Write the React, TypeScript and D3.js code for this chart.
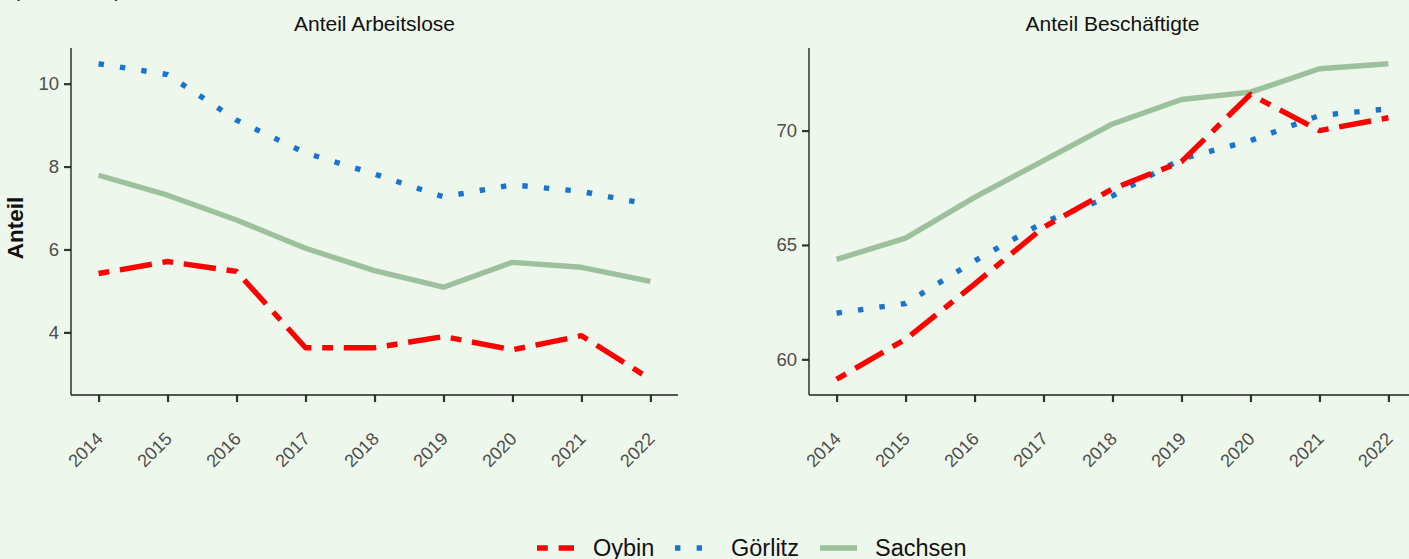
import React, { useRef, useEffect } from 'react';
import * as d3 from 'd3';

// Years on the x axis
const years = [2014, 2015, 2016, 2017, 2018, 2019, 2020, 2021, 2022];

// Anteil Arbeitslose (%)
const arbeitsloseOybin = [5.42, 5.71, 5.47, 3.63, 3.63, 3.9, 3.58, 3.92, 2.87];
const arbeitsloseGoerlitz = [10.48, 10.22, 9.12, 8.33, 7.82, 7.27, 7.56, 7.4, 7.08];
const arbeitsloseSachsen = [7.79, 7.31, 6.71, 6.03, 5.49, 5.09, 5.69, 5.57, 5.23];

// Anteil Beschäftigte (%)
const beschaeftigteOybin = [59.13, 60.88, 63.29, 65.77, 67.45, 68.64, 71.58, 70.0, 70.56];
const beschaeftigteGoerlitz = [62.02, 62.44, 64.3, 65.99, 67.15, 68.76, 69.56, 70.66, 70.95];
const beschaeftigteSachsen = [64.37, 65.3, 67.08, 68.69, 70.29, 71.36, 71.68, 72.7, 72.92];

const regions = ['Oybin', 'Görlitz', 'Sachsen'];
const leftTicks = [4, 6, 8, 10];
const rightTicks = [60, 65, 70];

const FONT = '"Liberation Sans", Arial, Helvetica, sans-serif';
const LW = 5.4;
const styles: Record<string, { color: string; dash: string | null }> = {
    Oybin: { color: '#ff0000', dash: `${2 * LW} ${2 * LW} ${6 * LW} ${2 * LW}` },
    'Görlitz': { color: '#1874cd', dash: `${LW} ${3 * LW}` },
    Sachsen: { color: '#9dc19d', dash: null },
};

const App = () => {
    const svgRef = useRef<SVGSVGElement>(null);

    useEffect(() => {
        const width = 1409;
        const height = 559;
        const top = 48;
        const bottom = 395;

        const svg = d3.select(svgRef.current)
            .attr('width', width)
            .attr('height', height)
            .style('position', 'absolute')
            .style('left', 0)
            .style('top', 0)
            .style('font-family', FONT);

        svg.selectAll('*').remove();

        svg.append('rect')
            .attr('width', width)
            .attr('height', height)
            .attr('fill', '#eef7ec');

        // subtitle, cropped at the very top like in the original
        svg.append('text')
            .attr('x', 13)
            .attr('y', -3.5)
            .attr('font-size', 21)
            .attr('fill', '#1a1a1a')
            .text('(in Prozent)');

        const panels = [
            {
                title: 'Anteil Arbeitslose',
                x0: 71, x1: 678,
                ticks: leftTicks,
                series: { Oybin: arbeitsloseOybin, 'Görlitz': arbeitsloseGoerlitz, Sachsen: arbeitsloseSachsen } as Record<string, number[]>,
            },
            {
                title: 'Anteil Beschäftigte',
                x0: 809, x1: 1416,
                ticks: rightTicks,
                series: { Oybin: beschaeftigteOybin, 'Görlitz': beschaeftigteGoerlitz, Sachsen: beschaeftigteSachsen } as Record<string, number[]>,
            },
        ];

        panels.forEach(p => {
            const g = svg.append('g');

            // x scale with 5% expansion like ggplot
            const xr = d3.extent(years) as [number, number];
            const xpad = (xr[1] - xr[0]) * 0.05;
            const x = d3.scaleLinear()
                .domain([xr[0] - xpad, xr[1] + xpad])
                .range([p.x0, p.x1]);

            const all = regions.flatMap(r => p.series[r]);
            const yr = d3.extent(all) as [number, number];
            const ypad = (yr[1] - yr[0]) * 0.05;
            const y = d3.scaleLinear()
                .domain([yr[0] - ypad, yr[1] + ypad])
                .range([bottom, top]);

            // y axis
            const yAxis = g.append('g')
                .attr('transform', `translate(${p.x0},0)`)
                .call(d3.axisLeft(y).tickValues(p.ticks).tickSize(7).tickPadding(5).tickSizeOuter(0));
            yAxis.select('.domain').remove();
            yAxis.selectAll('.tick line').attr('stroke', '#333').attr('stroke-width', 2.2);
            yAxis.selectAll('.tick text')
                .attr('fill', '#4d4d4d')
                .attr('font-size', 18.5)
                .attr('font-family', FONT);
            g.append('line')
                .attr('x1', p.x0).attr('x2', p.x0)
                .attr('y1', top).attr('y2', bottom)
                .attr('stroke', '#222').attr('stroke-width', 1.4);

            // x axis
            const xAxis = g.append('g')
                .attr('transform', `translate(0,${bottom})`)
                .call(d3.axisBottom(x).tickValues(years).tickFormat(d3.format('d')).tickSize(7).tickSizeOuter(0));
            xAxis.select('.domain').remove();
            xAxis.selectAll('.tick line').attr('stroke', '#333').attr('stroke-width', 2.2);
            xAxis.selectAll('.tick text')
                .attr('fill', '#4d4d4d')
                .attr('font-size', 18)
                .attr('font-family', FONT)
                .attr('text-anchor', 'end')
                .attr('y', 0)
                .attr('dy', 0)
                .attr('transform', 'translate(5,45) rotate(-45)');
            g.append('line')
                .attr('x1', p.x0).attr('x2', p.x1)
                .attr('y1', bottom).attr('y2', bottom)
                .attr('stroke', '#222').attr('stroke-width', 1.4);

            // title
            g.append('text')
                .attr('x', (p.x0 + p.x1) / 2)
                .attr('y', 31)
                .attr('text-anchor', 'middle')
                .attr('font-size', 21)
                .attr('fill', '#111')
                .text(p.title);

            const line = d3.line<number>()
                .x((_, i) => x(years[i]))
                .y(d => y(d));

            ['Sachsen', 'Görlitz', 'Oybin'].forEach(r => {
                const s = styles[r];
                g.append('path')
                    .datum(p.series[r])
                    .attr('fill', 'none')
                    .attr('stroke', s.color)
                    .attr('stroke-width', LW)
                    .attr('stroke-linejoin', 'round')
                    .attr('stroke-dasharray', s.dash)
                    .attr('d', line);
            });
        });

        // y axis label
        svg.append('text')
            .attr('transform', 'translate(23,228) rotate(-90)')
            .attr('text-anchor', 'middle')
            .attr('font-size', 22.5)
            .attr('font-weight', 'bold')
            .attr('fill', '#111')
            .text('Anteil');

        // legend
        const legendKeys = [537, 675, 820];
        const legendText = [593, 731, 875];
        regions.forEach((r, i) => {
            const s = styles[r];
            svg.append('line')
                .attr('x1', legendKeys[i]).attr('x2', legendKeys[i] + 37)
                .attr('y1', 548).attr('y2', 548)
                .attr('stroke', s.color)
                .attr('stroke-width', LW)
                .attr('stroke-dasharray', s.dash);
            svg.append('text')
                .attr('x', legendText[i])
                .attr('y', 555.5)
                .attr('font-size', 23.5)
                .attr('fill', '#111')
                .text(r);
        });
    }, []);

    return <svg ref={svgRef}></svg>;
};

export default App;
